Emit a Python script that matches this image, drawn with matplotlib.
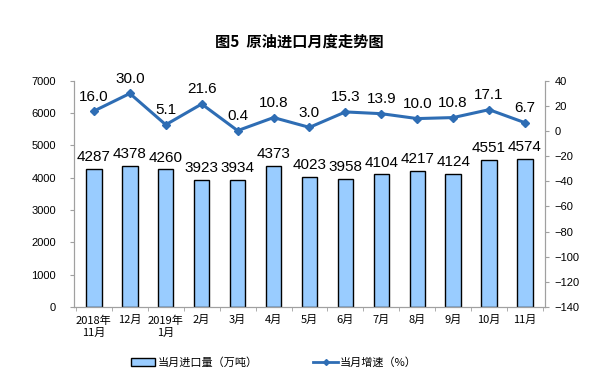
import numpy as np
import matplotlib.pyplot as plt
from matplotlib.lines import Line2D
from matplotlib.patches import Patch

plt.rcParams['font.family'] = ['Liberation Sans', 'Noto Sans CJK SC', 'DejaVu Sans']

months = ['2018年\n11月', '12月', '2019年\n1月', '2月', '3月', '4月', '5月',
          '6月', '7月', '8月', '9月', '10月', '11月']
imports = [4287, 4378, 4260, 3923, 3934, 4373, 4023, 3958, 4104, 4217, 4124, 4551, 4574]
growth = [16.0, 30.0, 5.1, 21.6, 0.4, 10.8, 3.0, 15.3, 13.9, 10.0, 10.8, 17.1, 6.7]

cjk = ['Noto Sans CJK SC', 'DejaVu Sans']
x = np.arange(len(months))

fig = plt.figure(figsize=(5.98, 3.89), dpi=100)
ax = fig.add_axes([0.124, 0.211, 0.787, 0.581])
ax2 = ax.twinx()

ax.bar(x, imports, width=0.43, color='#99CCFF', edgecolor='black', lw=1.0, zorder=2)
for xi, v in zip(x, imports):
    ax.text(xi, v + 150, str(v), ha='center', va='bottom', fontsize=11)

ax2.plot(x, growth, color='#2E6DB4', lw=2.2, marker='D', ms=4.5, zorder=3)
for xi, v in zip(x, growth):
    ax2.text(xi, v + 6, f'{v:.1f}', ha='center', va='bottom', fontsize=11)

ax.set_xlim(-0.55, len(months) - 0.45)
ax.set_ylim(0, 7000)
ax.set_yticks(range(0, 7001, 1000))
ax2.set_ylim(-140, 40)
ax2.set_yticks(range(-140, 41, 20))

ax.set_xticks(x)
ax.set_xticklabels(months, fontfamily=cjk, fontsize=8, linespacing=1.3)
ax.set_xticks(np.arange(-0.5, len(months), 1), minor=True)
ax.tick_params(axis='x', which='major', length=0, pad=6)
ax.tick_params(axis='x', which='minor', length=3, color='#A0A0A0')
ax.tick_params(axis='y', labelsize=8, length=3, color='#A0A0A0', pad=10)
ax2.tick_params(axis='y', labelsize=8, length=3, color='#A0A0A0', pad=4)

for a in (ax, ax2):
    a.spines['top'].set_visible(False)
    for s in ('left', 'right', 'bottom'):
        a.spines[s].set_color('#A0A0A0')

fig.text(0.5, 0.892, '图5  原油进口月度走势图', ha='center', va='center',
         fontsize=11, fontweight='bold', family=cjk)

handles = [Patch(facecolor='#99CCFF', edgecolor='black', lw=1.0),
           Line2D([0], [0], color='#2E6DB4', lw=2, marker='D', ms=3)]
fig.legend(handles, ['当月进口量（万吨）', '当月增速（%）'], loc='center',
           bbox_to_anchor=(0.458, 0.068), ncol=2, frameon=False, columnspacing=5.0,
           handlelength=2.2, handletextpad=0.2, prop={'family': cjk, 'size': 8})

fig.savefig('out.png', dpi=100)
